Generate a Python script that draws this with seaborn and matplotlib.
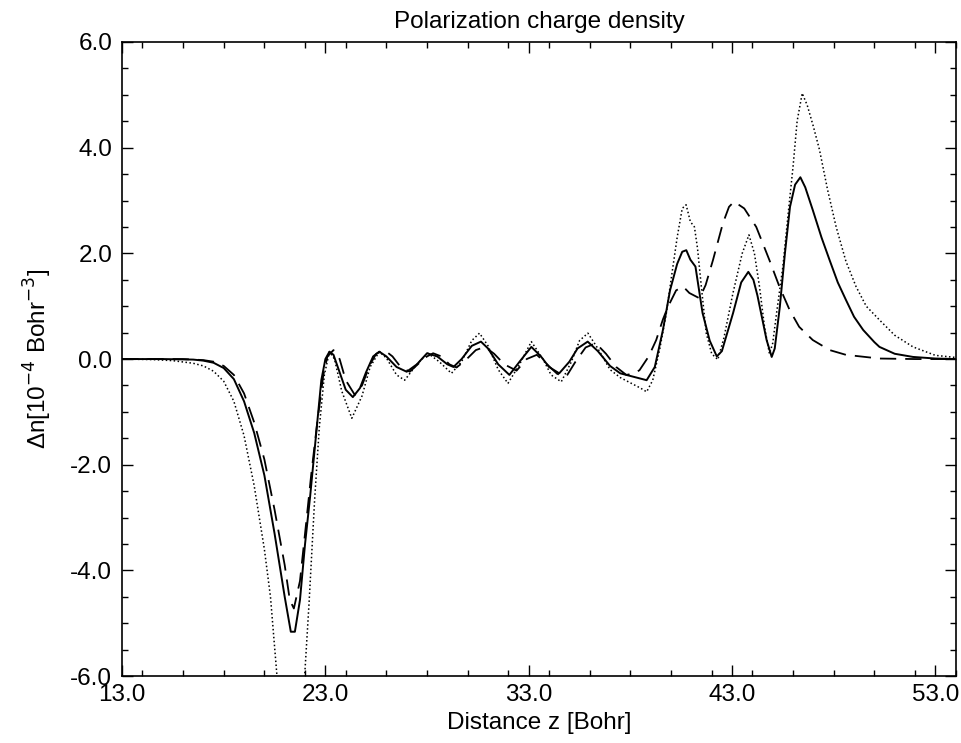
import numpy as np
import pandas as pd
import seaborn as sns
import matplotlib.pyplot as plt
from matplotlib.ticker import MultipleLocator, FormatStrFormatter

# solid curve
solid_z = [13.0, 15.0, 16.5, 17.0, 17.5, 18.0, 18.5, 19.0, 19.5, 20.0, 20.5, 21.0, 21.3, 21.5,
           21.75, 22.0, 22.25, 22.5, 22.8, 23.0, 23.2, 23.4, 23.7, 24.0, 24.35, 24.7, 25.0, 25.35,
           25.65, 26.0, 26.5, 27.0, 27.5, 28.0, 28.5, 29.0, 29.3, 29.7, 30.2, 30.65, 31.0, 31.5,
           32.05, 32.55, 33.13, 33.6, 34.0, 34.5, 35.0, 35.4, 35.9, 36.4, 37.0, 37.5, 38.0, 38.4,
           38.8, 39.2, 39.6, 39.95, 40.3, 40.55, 40.75, 40.95, 41.2, 41.55, 41.9, 42.25, 42.5,
           43.05, 43.45, 43.8, 44.05, 44.25, 44.7, 44.95, 45.1, 45.35, 45.6, 45.85, 46.1, 46.36,
           46.6, 46.97, 47.4, 47.8, 48.2, 48.6, 49.0, 49.45, 50.0, 50.25, 51.0, 51.9, 53.0, 54.0]
solid_dn = [0.0, 0.0, -0.01, -0.03, -0.07, -0.17, -0.38, -0.8, -1.4, -2.2, -3.3, -4.5, -5.16, -5.16,
            -4.56, -3.5, -2.6, -1.6, -0.4, 0.0, 0.14, 0.08, -0.25, -0.58, -0.72, -0.55, -0.25, 0.05,
            0.14, 0.05, -0.15, -0.24, -0.1, 0.11, 0.05, -0.1, -0.15, 0.0, 0.25, 0.33, 0.2, -0.1,
            -0.3, -0.05, 0.23, 0.05, -0.15, -0.27, -0.05, 0.2, 0.33, 0.15, -0.13, -0.27, -0.32, -0.36,
            -0.4, -0.15, 0.55, 1.3, 1.8, 2.03, 2.06, 1.88, 1.75, 0.87, 0.35, 0.05, 0.15,
            0.87, 1.45, 1.65, 1.5, 1.2, 0.36, 0.04, 0.2, 0.99, 2.0, 2.88, 3.3, 3.44,
            3.25, 2.82, 2.3, 1.87, 1.45, 1.12, 0.8, 0.55, 0.32, 0.23, 0.1, 0.04, 0.01, 0.0]

# dashed curve
dashed_z = [13.0, 16.0, 17.0, 17.5, 18.0, 18.5, 19.0, 19.5, 20.0, 20.5, 21.0, 21.25, 21.45, 21.75,
            22.0, 22.3, 22.6, 22.9, 23.1, 23.4, 23.7, 24.0, 24.45, 24.8, 25.2, 25.5, 25.9, 26.3,
            26.7, 27.15, 27.6, 28.0, 28.3, 28.7, 29.1, 29.45, 29.9, 30.4, 30.85, 31.3, 31.8, 32.4,
            32.9, 33.4, 33.9, 34.4, 34.85, 35.3, 35.8, 36.3, 36.8, 37.3, 37.8, 38.2, 38.45, 38.9,
            39.27, 39.6, 39.85, 40.25, 40.6, 40.9, 41.4, 41.7, 42.06, 42.55, 42.85, 43.1, 43.6,
            44.19, 44.84, 45.33, 45.83, 46.3, 46.97, 47.8, 48.6, 50.25, 52.0, 54.0]
dashed_dn = [0.0, 0.0, -0.02, -0.05, -0.13, -0.3, -0.65, -1.2, -1.9, -2.85, -3.9, -4.56, -4.72, -4.2,
             -3.3, -2.2, -1.2, -0.3, 0.05, 0.17, 0.0, -0.4, -0.68, -0.5, -0.1, 0.1, 0.17, 0.05,
             -0.15, -0.24, -0.08, 0.05, 0.11, 0.05, -0.1, -0.16, -0.02, 0.17, 0.23, 0.1, -0.1, -0.22,
             0.0, 0.08, -0.1, -0.28, -0.33, -0.05, 0.22, 0.3, 0.1, -0.15, -0.3, -0.27, -0.21, 0.05,
             0.36, 0.75, 0.99, 1.3, 1.37, 1.25, 1.15, 1.4, 1.87, 2.57, 2.88, 2.98, 2.85,
             2.5, 1.87, 1.37, 0.93, 0.61, 0.36, 0.17, 0.08, 0.01, 0.0, 0.0]

# dotted curve
dotted_z = [13.0, 14.5, 15.5, 16.5, 17.0, 17.5, 18.0, 18.5, 19.0, 19.5, 20.0, 20.3, 20.62, 21.0,
            21.3, 21.6, 21.98, 22.2, 22.47, 22.7, 22.95, 23.2, 23.45, 23.8, 24.3, 24.8, 25.2, 25.65,
            26.0, 26.5, 26.9, 27.5, 28.04, 28.6, 29.2, 29.7, 30.2, 30.58, 31.0, 31.5, 31.98, 32.55,
            33.13, 33.7, 34.1, 34.6, 35.1, 35.5, 35.91, 36.4, 37.0, 37.5, 38.0, 38.5, 38.8, 39.1,
            39.45, 39.77, 40.0, 40.3, 40.55, 40.74, 40.95, 41.15, 41.3, 41.49, 41.73, 42.0, 42.3,
            42.6, 43.04, 43.5, 43.83, 44.1, 44.35, 44.6, 44.84, 45.0, 45.2, 45.5, 45.8, 46.0, 46.2,
            46.45, 46.7, 47.0, 47.3, 47.7, 48.12, 48.6, 49.1, 49.6, 50.25, 51.0, 51.9, 53.0, 54.0]
dotted_dn = [0.0, -0.01, -0.03, -0.08, -0.13, -0.23, -0.42, -0.8, -1.45, -2.4, -3.6, -4.5, -6.0, -7.2,
             -7.5, -7.2, -6.0, -4.6, -2.67, -1.3, -0.3, 0.14, 0.0, -0.6, -1.12, -0.7, -0.15, 0.14,
             0.02, -0.3, -0.4, -0.1, 0.11, -0.05, -0.27, -0.05, 0.35, 0.49, 0.25, -0.2, -0.46, -0.1,
             0.33, 0.0, -0.3, -0.43, -0.05, 0.35, 0.49, 0.2, -0.2, -0.35, -0.45, -0.55, -0.62, -0.4,
             0.2, 0.87, 1.5, 2.3, 2.85, 2.92, 2.6, 2.5, 2.1, 1.37, 0.49, 0.1, -0.01,
             0.4, 1.24, 2.0, 2.35, 2.0, 1.37, 0.6, 0.1, 0.3, 0.9, 1.75, 2.9, 3.64, 4.5,
             5.03, 4.8, 4.4, 3.96, 3.2, 2.5, 1.85, 1.37, 1.0, 0.74, 0.45, 0.23, 0.07, 0.03]

sns.set_style('ticks')
plt.rcParams['font.family'] = ['Liberation Sans', 'DejaVu Sans']
plt.rcParams['text.color'] = 'black'
plt.rcParams['axes.labelcolor'] = 'black'
plt.rcParams['xtick.color'] = 'black'
plt.rcParams['ytick.color'] = 'black'
plt.rcParams['axes.edgecolor'] = 'black'

fig = plt.figure(figsize=(9.61, 7.43), dpi=100)
ax = fig.add_axes([0.127, 0.09, 0.8675, 0.8535])

sns.lineplot(x=solid_z, y=solid_dn, color='black', lw=1.4, ax=ax)
sns.lineplot(x=dashed_z, y=dashed_dn, color='black', lw=1.3, ax=ax, linestyle=(0, (9, 5)))
sns.lineplot(x=dotted_z, y=dotted_dn, color='black', lw=1.1, ax=ax, linestyle=(0, (1, 1.6)))

ax.set_xlim(13, 54)
ax.set_ylim(-6, 6)
ax.set_xticks([13, 23, 33, 43, 53])
ax.xaxis.set_minor_locator(MultipleLocator(2))
ax.yaxis.set_major_locator(MultipleLocator(2))
ax.yaxis.set_minor_locator(MultipleLocator(0.5))
ax.xaxis.set_major_formatter(FormatStrFormatter('%.1f'))
ax.yaxis.set_major_formatter(FormatStrFormatter('%.1f'))
ax.tick_params(which='both', direction='in', top=True, right=True, labelsize=17.5, width=1)
ax.tick_params(which='major', length=8)
ax.tick_params(which='minor', length=4)
ax.tick_params(axis='y', which='major', pad=7)
ax.tick_params(axis='x', which='major', pad=6)
for s in ax.spines.values():
    s.set_linewidth(1.2)

ax.set_title('Polarization charge density', fontsize=17.5, pad=10)
ax.set_xlabel('Distance z [Bohr]', fontsize=17.5, labelpad=4)
ax.set_ylabel('Δn[10$^{-4}$ Bohr$^{-3}$]', fontsize=17.5, labelpad=12)

fig.savefig('out.png', dpi=100)
